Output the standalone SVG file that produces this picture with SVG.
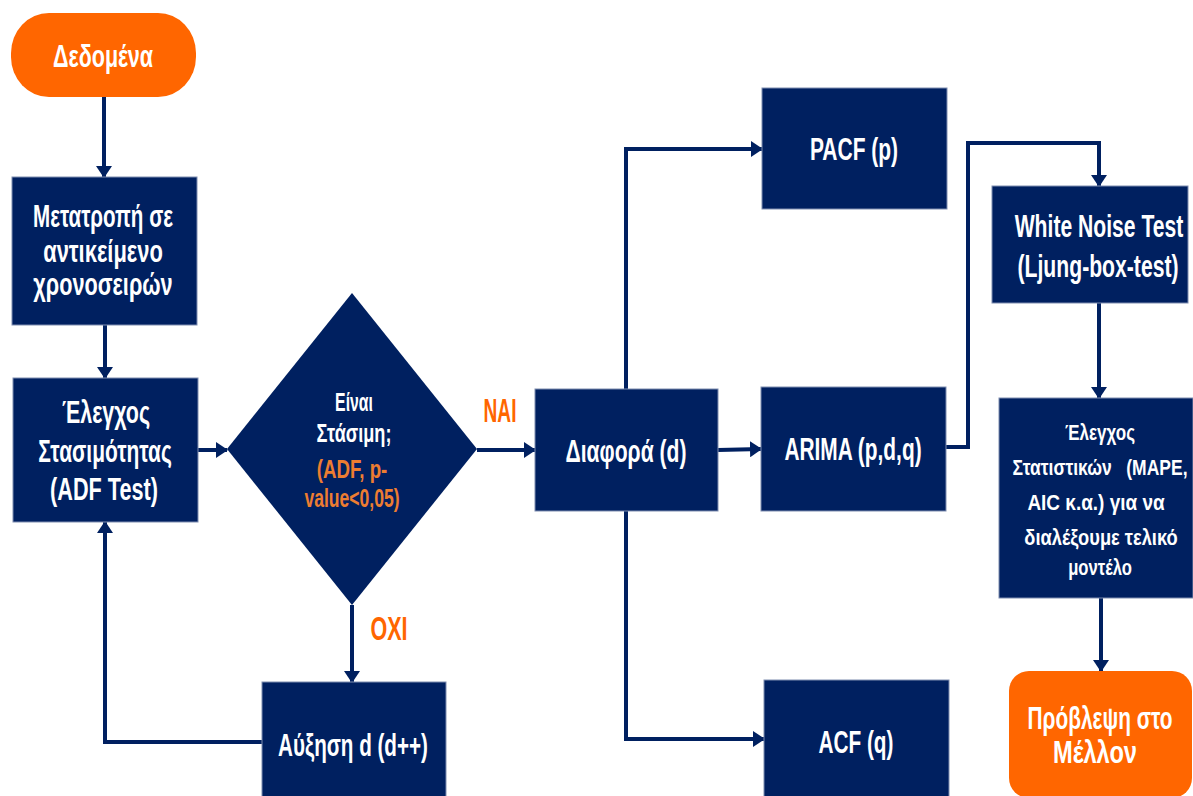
<svg xmlns="http://www.w3.org/2000/svg" width="1193" height="796" viewBox="0 0 1193 796">
<style>
  .box { fill: #002060; stroke: #7f8db0; stroke-width: 1; }
  .term { fill: #FF6600; }
  .t { font-family: "Liberation Sans", Arial, sans-serif; font-weight: bold; fill: #ffffff; text-anchor: middle; }
  .big { font-size: 32px; }
  .mid { font-size: 26px; }
  .sm { font-size: 22px; }
  .or { fill: #ED7D31; }
  .lab { font-family: "Liberation Sans", Arial, sans-serif; font-weight: bold; fill: #FF6600; font-size: 33px; text-anchor: middle; }
  .con { fill: none; stroke: #002060; stroke-width: 4; marker-end: url(#arr); }
</style>
<defs>
  <marker id="arr" markerUnits="userSpaceOnUse" markerWidth="12" markerHeight="16" refX="11" refY="8" orient="auto">
    <path d="M0,0 L12,8 L0,16 z" fill="#002060"/>
  </marker>
</defs>
<rect width="1193" height="796" fill="#ffffff"/>

<g id="connectors">
  <path class="con" d="M104,97 V177"/>
  <path class="con" d="M105,325 V378"/>
  <path class="con" d="M198,450 H227"/>
  <path class="con" d="M477,450 H535"/>
  <path class="con" d="M352,605 V682"/>
  <path class="con" d="M262,742 H105 V522"/>
  <path class="con" d="M718,450 L761,449"/>
  <path class="con" d="M626,389 V149 H762"/>
  <path class="con" d="M626,511 V739 H764"/>
  <path class="con" d="M946,447 H968 V143 H1099 V186"/>
  <path class="con" d="M1099,303 V398"/>
  <path class="con" d="M1101,598 V671"/>
</g>

<g id="node-dedomena">
  <rect class="term" x="11" y="13" width="185" height="84" rx="38" ry="40"/>
  <text class="t big" transform="translate(103,0) scale(0.7,1)" x="0" y="67" textLength="143" lengthAdjust="spacingAndGlyphs">Δεδομένα</text>
</g>

<g id="node-metatropi">
  <rect class="box" x="12" y="177" width="185" height="148"/>
  <text class="t big" transform="translate(103,0) scale(0.7,1)" x="0" y="227" textLength="200" lengthAdjust="spacingAndGlyphs">Μετατροπή σε</text>
  <text class="t big" transform="translate(103,0) scale(0.7,1)" x="0" y="262" textLength="171" lengthAdjust="spacingAndGlyphs">αντικείμενο</text>
  <text class="t big" transform="translate(103,0) scale(0.7,1)" x="0" y="295" textLength="199" lengthAdjust="spacingAndGlyphs">χρονοσειρών</text>
</g>

<g id="node-elegxos">
  <rect class="box" x="13" y="378" width="185" height="144"/>
  <text class="t big" transform="translate(106,0) scale(0.7,1)" x="0" y="423" textLength="126" lengthAdjust="spacingAndGlyphs">Έλεγχος</text>
  <text class="t big" transform="translate(105,0) scale(0.7,1)" x="0" y="462" textLength="191" lengthAdjust="spacingAndGlyphs">Στασιμότητας</text>
  <text class="t big" transform="translate(104,0) scale(0.7,1)" x="0" y="500" textLength="154" lengthAdjust="spacingAndGlyphs">(ADF Test)</text>
</g>

<g id="node-stasimi">
  <polygon points="352,293 477,449 352,605 227,449" fill="#002060"/>
  <text class="t mid" transform="translate(354,0) scale(0.7,1)" x="0" y="411" textLength="54" lengthAdjust="spacingAndGlyphs">Είναι</text>
  <text class="t mid" transform="translate(354,0) scale(0.7,1)" x="0" y="442" textLength="107" lengthAdjust="spacingAndGlyphs">Στάσιμη;</text>
  <text class="t mid or" transform="translate(352,0) scale(0.7,1)" x="0" y="478" textLength="101" lengthAdjust="spacingAndGlyphs">(ADF, p-</text>
  <text class="t mid or" transform="translate(352,0) scale(0.7,1)" x="0" y="507" textLength="136" lengthAdjust="spacingAndGlyphs">value&lt;0,05)</text>
</g>

<g id="label-nai">
  <text class="lab" transform="translate(500,0) scale(0.7,1)" x="0" y="422" textLength="47" lengthAdjust="spacingAndGlyphs">ΝΑΙ</text>
</g>
<g id="label-oxi">
  <text class="lab" transform="translate(389,0) scale(0.7,1)" x="0" y="640" textLength="53" lengthAdjust="spacingAndGlyphs">ΟΧΙ</text>
</g>

<g id="node-afxisi">
  <rect class="box" x="262" y="682" width="184" height="116"/>
  <text class="t big" transform="translate(353,0) scale(0.7,1)" x="0" y="756" textLength="214" lengthAdjust="spacingAndGlyphs">Αύξηση d (d++)</text>
</g>

<g id="node-diafora">
  <rect class="box" x="535" y="389" width="183" height="122"/>
  <text class="t big" transform="translate(626,0) scale(0.7,1)" x="0" y="462" textLength="173" lengthAdjust="spacingAndGlyphs">Διαφορά (d)</text>
</g>

<g id="node-pacf">
  <rect class="box" x="762" y="88" width="185" height="121"/>
  <text class="t big" transform="translate(854,0) scale(0.7,1)" x="0" y="160" textLength="126" lengthAdjust="spacingAndGlyphs">PACF (p)</text>
</g>

<g id="node-arima">
  <rect class="box" x="761" y="387" width="185" height="124"/>
  <text class="t big" transform="translate(853,0) scale(0.7,1)" x="0" y="460" textLength="196" lengthAdjust="spacingAndGlyphs">ARIMA (p,d,q)</text>
</g>

<g id="node-acf">
  <rect class="box" x="764" y="680" width="185" height="118"/>
  <text class="t big" transform="translate(856,0) scale(0.7,1)" x="0" y="753" textLength="107" lengthAdjust="spacingAndGlyphs">ACF (q)</text>
</g>

<g id="node-whitenoise">
  <rect class="box" x="992" y="186" width="196" height="117"/>
  <text class="t big" transform="translate(1099,0) scale(0.7,1)" x="0" y="237" font-size="30" textLength="241" lengthAdjust="spacingAndGlyphs">White Noise Test</text>
  <text class="t big" transform="translate(1098,0) scale(0.7,1)" x="0" y="277" font-size="30" textLength="230" lengthAdjust="spacingAndGlyphs">(Ljung-box-test)</text>
</g>

<g id="node-statistika">
  <rect class="box" x="999" y="398" width="194" height="200"/>
  <text class="t sm" transform="translate(1100,0) scale(0.7,1)" x="0" y="440" textLength="100" lengthAdjust="spacingAndGlyphs">Έλεγχος</text>
  <text class="t sm" transform="translate(1100,0) scale(0.7,1)" x="0" y="475" textLength="250" lengthAdjust="spacingAndGlyphs" xml:space="preserve">Στατιστικών   (MAPE,</text>
  <text class="t sm" transform="translate(1096,0) scale(0.7,1)" x="0" y="510" textLength="196" lengthAdjust="spacingAndGlyphs">AIC κ.α.) για να</text>
  <text class="t sm" transform="translate(1101,0) scale(0.7,1)" x="0" y="545" textLength="219" lengthAdjust="spacingAndGlyphs">διαλέξουμε τελικό</text>
  <text class="t sm" transform="translate(1100,0) scale(0.7,1)" x="0" y="575" textLength="91" lengthAdjust="spacingAndGlyphs">μοντέλο</text>
</g>

<g id="node-provlepsi">
  <rect class="term" x="1009" y="671" width="183" height="127" rx="20" ry="20"/>
  <text class="t big" transform="translate(1100,0) scale(0.7,1)" x="0" y="729" font-size="30" textLength="207" lengthAdjust="spacingAndGlyphs">Πρόβλεψη στο</text>
  <text class="t big" transform="translate(1095,0) scale(0.7,1)" x="0" y="763" font-size="30" textLength="120" lengthAdjust="spacingAndGlyphs">Μέλλον</text>
</g>
</svg>
